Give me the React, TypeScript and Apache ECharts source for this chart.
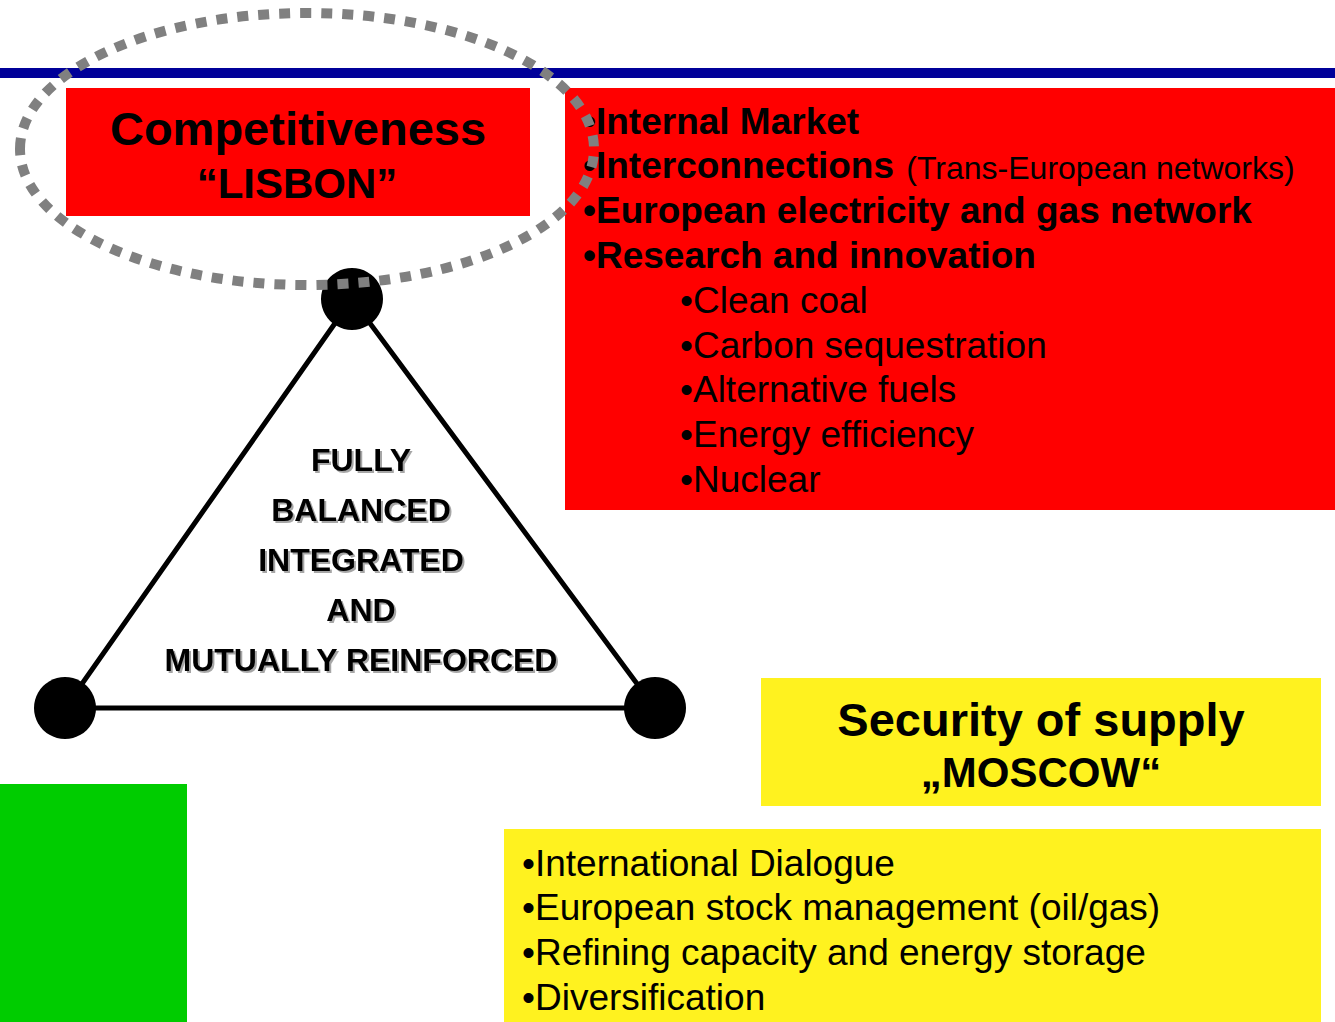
import React, { useEffect, useRef } from "react";
import * as echarts from "echarts";

const FONT = '"Liberation Sans", Arial, Helvetica, sans-serif';

const lisbonTitle = ["Competitiveness", "\u201CLISBON\u201D"];
const moscowTitle = ["Security of supply", "\u201EMOSCOW\u201C"];
const mainItems = ["Internal Market", "Interconnections", "European electricity and gas network", "Research and innovation"];
const interconnectionNote = "(Trans-European networks)";
const researchItems = ["Clean coal", "Carbon sequestration", "Alternative fuels", "Energy efficiency", "Nuclear"];
const supplyItems = ["International Dialogue", "European stock management (oil/gas)", "Refining capacity and energy storage", "Diversification"];
const triangleLines = ["FULLY", "BALANCED", "INTEGRATED", "AND", "MUTUALLY REINFORCED"];

function txt(text: string, x: number, y: number, size: number, bold: boolean, align = "left", extra: any = {}) {
  return {
    type: "text",
    x,
    y,
    z: 10,
    style: {
      text,
      fill: "#000",
      fontFamily: FONT,
      fontSize: size,
      fontWeight: bold ? "bold" : "normal",
      align,
      verticalAlign: "middle",
      ...extra,
    },
  };
}

export default function App() {
  const ref = useRef<HTMLDivElement>(null);
  useEffect(() => {
    const chart = echarts.init(ref.current!, null, { renderer: "svg" });
    const els: any[] = [];
    // blue rule
    els.push({ type: "rect", z: 1, shape: { x: 0, y: 68, width: 1335, height: 10 }, style: { fill: "#000099" } });
    // boxes
    els.push({ type: "rect", z: 1, shape: { x: 66, y: 88, width: 464, height: 128 }, style: { fill: "#FF0000" } });
    els.push({ type: "rect", z: 1, shape: { x: 565, y: 88, width: 770, height: 422 }, style: { fill: "#FF0000" } });
    els.push({ type: "rect", z: 1, shape: { x: 761, y: 678, width: 560, height: 128 }, style: { fill: "#FFF21F" } });
    els.push({ type: "rect", z: 1, shape: { x: 504, y: 829, width: 817, height: 193 }, style: { fill: "#FFF21F" } });
    els.push({ type: "rect", z: 1, shape: { x: 0, y: 784, width: 187, height: 238 }, style: { fill: "#00CC00" } });
    // triangle
    els.push({
      type: "polygon",
      z: 2,
      shape: { points: [[352, 299], [65, 708], [655, 708]] },
      style: { fill: "none", stroke: "#000", lineWidth: 5 },
    });
    [[352, 299], [65, 708], [655, 708]].forEach(([cx, cy]) => {
      els.push({ type: "circle", z: 3, shape: { cx, cy, r: 31 }, style: { fill: "#000" } });
    });
    // Lisbon title
    els.push(txt(lisbonTitle[0], 298, 128, 47, true, "center"));
    els.push(txt(lisbonTitle[1], 297, 183, 42, true, "center"));
    // Moscow title
    els.push(txt(moscowTitle[0], 1041, 719, 47, true, "center"));
    els.push(txt(moscowTitle[1], 1041, 772, 42, true, "center"));
    // main items
    const step = 44.8;
    mainItems.forEach((t, i) => {
      const y = 121 + i * step;
      if (i === 1) {
        els.push({
          type: "text",
          x: 583,
          y,
          z: 10,
          style: {
            text: "{b|\u2022" + t + " }{n|" + interconnectionNote + "}",
            fill: "#000",
            verticalAlign: "middle",
            align: "left",
            rich: {
              b: { fontFamily: FONT, fontSize: 37, fontWeight: "bold", fill: "#000" },
              n: { fontFamily: FONT, fontSize: 32, fontWeight: "normal", fill: "#000", padding: [4, 0, 0, 2] },
            },
          },
        });
      } else {
        els.push(txt("\u2022" + t, 583, y, 37, true));
      }
    });
    researchItems.forEach((t, i) => {
      els.push(txt("\u2022" + t, 680, 121 + (i + 4) * step, 37, false));
    });
    supplyItems.forEach((t, i) => {
      els.push(txt("\u2022" + t, 522, 863 + i * 44.7, 37, false));
    });
    triangleLines.forEach((t, i) => {
      els.push(
        txt(t, 361, 460 + i * 50, 32, true, "center", {
          textShadowColor: "rgba(0,0,0,0.35)",
          textShadowOffsetX: 2,
          textShadowOffsetY: 2,
          textShadowBlur: 1,
        })
      );
    });
    // dotted ellipse
    els.push({
      type: "ellipse",
      z: 20,
      shape: { cx: 307, cy: 149, rx: 287, ry: 136 },
      style: { fill: "none", stroke: "#808080", lineWidth: 10, lineDash: [11, 10] },
    });

    chart.setOption({
      animation: false,
      backgroundColor: "#ffffff",
      graphic: { elements: els },
    });
    return () => chart.dispose();
  }, []);
  return (
    <div
      ref={ref}
      style={{ position: "fixed", left: 0, top: 0, width: 1335, height: 1022, background: "#fff" }}
    />
  );
}
